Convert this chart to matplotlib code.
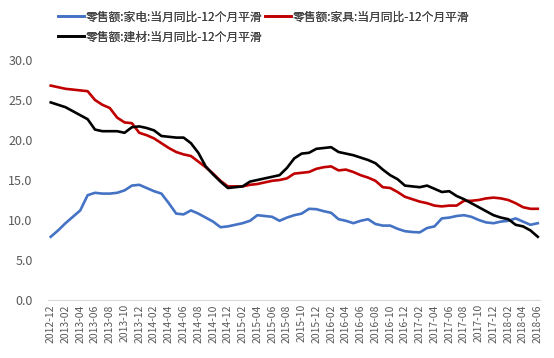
import matplotlib
matplotlib.use("Agg")
import matplotlib.pyplot as plt

plt.rcParams['font.family'] = ['Noto Sans CJK SC', 'DejaVu Sans']

months = []
y, m = 2012, 12
for _ in range(67):
    months.append(f"{y}-{m:02d}")
    m += 1
    if m > 12:
        m = 1
        y += 1

appliances = [7.9, 8.7, 9.6, 10.4, 11.2, 13.1, 13.4, 13.3, 13.3, 13.4, 13.7, 14.3, 14.4,
              14.0, 13.6, 13.3, 12.1, 10.8, 10.7, 11.2, 10.8, 10.3, 9.8, 9.1, 9.2,
              9.4, 9.6, 9.9, 10.6, 10.5, 10.4, 9.9, 10.3, 10.6, 10.8, 11.4, 11.35,
              11.1, 10.9, 10.1, 9.9, 9.6, 9.9, 10.1, 9.5, 9.3, 9.3, 8.9, 8.6,
              8.5, 8.45, 9.0, 9.2, 10.2, 10.3, 10.5, 10.6, 10.4, 10.0, 9.7, 9.6,
              9.8, 9.9, 10.2, 9.8, 9.4, 9.6]
furniture = [26.8, 26.6, 26.4, 26.3, 26.2, 26.1, 25.0, 24.4, 24.0, 22.8, 22.2, 22.1, 20.9,
             20.6, 20.2, 19.6, 19.0, 18.5, 18.2, 18.0, 17.3, 16.6, 15.8, 14.9, 14.2,
             14.2, 14.2, 14.4, 14.5, 14.7, 14.9, 15.0, 15.2, 15.8, 15.9, 16.0, 16.4,
             16.6, 16.7, 16.2, 16.3, 16.0, 15.6, 15.3, 14.9, 14.1, 14.0, 13.5, 12.9,
             12.6, 12.3, 12.1, 11.8, 11.7, 11.8, 11.8, 12.4, 12.4, 12.5, 12.7, 12.8,
             12.7, 12.5, 12.1, 11.6, 11.4, 11.4]
building = [24.7, 24.4, 24.1, 23.6, 23.1, 22.6, 21.3, 21.1, 21.1, 21.1, 20.9, 21.6, 21.7,
            21.5, 21.2, 20.5, 20.4, 20.3, 20.3, 19.6, 18.4, 16.7, 15.7, 14.8, 14.0,
            14.1, 14.2, 14.8, 15.0, 15.2, 15.4, 15.6, 16.5, 17.7, 18.3, 18.4, 18.9,
            19.0, 19.1, 18.5, 18.3, 18.1, 17.8, 17.5, 17.1, 16.3, 15.6, 15.1, 14.3,
            14.2, 14.1, 14.3, 13.9, 13.5, 13.6, 13.0, 12.6, 12.1, 11.6, 11.1, 10.6,
            10.3, 10.1, 9.4, 9.2, 8.7, 7.9]

labels = ["零售额:家电:当月同比-12个月平滑",
          "零售额:家具:当月同比-12个月平滑",
          "零售额:建材:当月同比-12个月平滑"]
yticks = [0, 5, 10, 15, 20, 25, 30]

W, H = 554, 358
fig = plt.figure(figsize=(W/100, H/100), dpi=100)
ax = fig.add_axes([48/W, 1-300/H, (540-48)/W, 240/H])
x = list(range(len(months)))
l1, = ax.plot(x, appliances, color='#4472C4', lw=1.9, label=labels[0])
l2, = ax.plot(x, furniture, color='#C00000', lw=1.9, label=labels[1])
l3, = ax.plot(x, building, color='#000000', lw=1.9, label=labels[2])

ax.set_ylim(0, 30)
ax.set_xlim(-0.37, 66.3)
ax.set_yticks(yticks)
ax.set_yticklabels([f"{v:.1f}" for v in yticks])
ax.set_xticks(x[::2])
ax.set_xticklabels(months[::2], rotation=90)
for s in ['top', 'right', 'left']:
    ax.spines[s].set_visible(False)
ax.spines['bottom'].set_color('#D9D9D9')
ax.tick_params(axis='both', length=0, colors='#595959')
ax.tick_params(axis='y', labelsize=9, pad=11)
ax.tick_params(axis='x', labelsize=7.5, pad=3)

# one legend per entry, placed like the reference (handle left edge, row centre)
for handle, lab, (px, py) in [(l1, labels[0], (58, 17)),
                              (l2, labels[1], (265, 17)),
                              (l3, labels[2], (58, 37))]:
    leg = fig.legend([handle], [lab], loc='center left',
                     bbox_to_anchor=(px/W, 1-py/H), frameon=False,
                     fontsize=8.5, handlelength=2.2, handletextpad=0.15,
                     borderpad=0, borderaxespad=0, labelcolor='#404040')
    fig.add_artist(leg)

fig.savefig("out.png", dpi=100)
